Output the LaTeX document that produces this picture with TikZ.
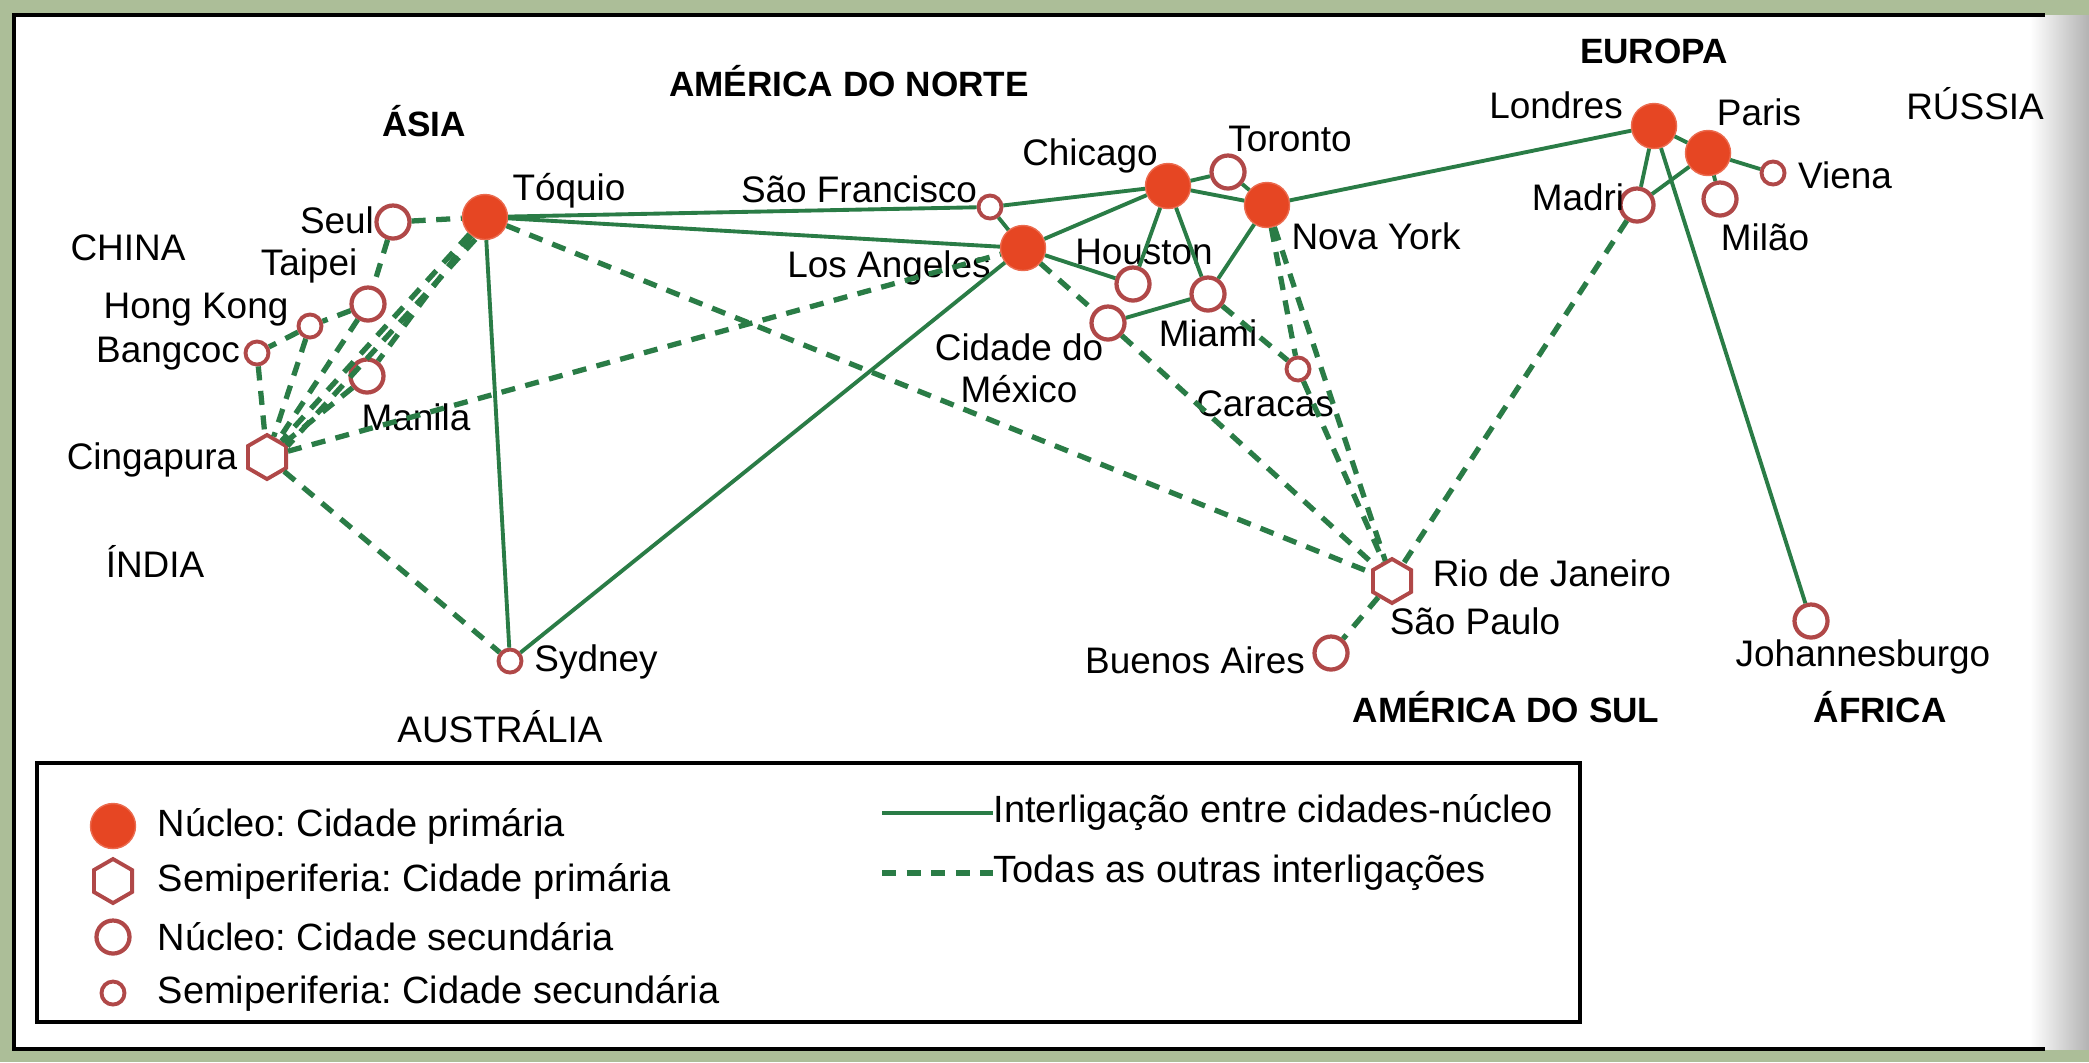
\documentclass[tikz,border=0pt]{standalone}
\usepackage{fontspec}
\setmainfont{Liberation Sans}
\usetikzlibrary{shapes.geometric}
\definecolor{linkgreen}{RGB}{42,124,70}
\definecolor{corered}{RGB}{230,70,35}
\definecolor{ringred}{RGB}{176,72,72}
\definecolor{pagegreen}{RGB}{172,190,152}
\newcommand{\maptext}{\fontsize{10.5}{12}\selectfont}
\newcommand{\regiontext}{\fontsize{10}{12}\selectfont\bfseries}
\newcommand{\keytext}{\fontsize{10.8}{13}\selectfont}
\frenchspacing

\begin{document}
\begin{tikzpicture}[x=0.01cm,y=-0.01cm,
    core/.style = {circle, fill=corered, draw=corered!80!white, minimum size=0.45cm, inner sep=0pt},
    hub/.style = {regular polygon, regular polygon sides=6, shape border rotate=30, draw=ringred, fill=white, line width=1.1pt, minimum size=0.44cm, inner sep=0pt},
    sec/.style = {circle, draw=ringred, fill=white, line width=1.2pt, minimum size=0.33cm, inner sep=0pt},
    minor/.style = {circle, draw=ringred, fill=white, line width=1.1pt, minimum size=0.23cm, inner sep=0pt},
    city/.style = {font=\maptext, inner sep=0pt},
    region/.style = {font=\regiontext, inner sep=0pt},
    keyitem/.style = {font=\keytext, inner sep=0pt, anchor=west},
    corelink/.style = {draw=linkgreen, line width=1.1pt},
    otherlink/.style = {draw=linkgreen, line width=1.5pt, dash pattern=on 4pt off 3pt}]
    \useasboundingbox (0,0) rectangle (2089,1062);
    % page and frame
    \fill[pagegreen] (0,0) rectangle (2089,1062);
    \fill[white] (14,15) rectangle (2045,1049);
    \shade[left color=white, right color=black!30] (2030,15) rectangle (2089,1049);
    \draw[line width=1pt] (2045,15) -- (14,15) -- (14,1049) -- (2045,1049);

    % regions
    \node[region] (asia) at (424,121) {ÁSIA};
    \node[region] (amnorte) at (849,81) {AMÉRICA DO NORTE};
    \node[region] (europa) at (1654,51) {EUROPA};
    \node[city] (russia) at (1975,104) {RÚSSIA};
    \node[city] (china) at (128,248) {CHINA};
    \node[city] (india) at (155,561) {ÍNDIA};
    \node[city] (australia) at (500,727) {AUSTRÁLIA};
    \node[region] (amsul) at (1506,707) {AMÉRICA DO SUL};
    \node[region] (africa) at (1880,707) {ÁFRICA};

    % cities
    \node[core] (tok) at (485,217) {};
    \node[sec] (seul) at (393,222) {};
    \node[sec] (taipei) at (368,304) {};
    \node[minor] (hk) at (310,326) {};
    \node[minor] (bkk) at (257,353) {};
    \node[sec] (manila) at (367,376) {};
    \node[hub] (cing) at (267,457) {};
    \node[minor] (syd) at (510,661) {};
    \node[minor] (sf) at (990,207) {};
    \node[core] (la) at (1023,248) {};
    \node[core] (chi) at (1168,186) {};
    \node[sec] (tor) at (1228,172) {};
    \node[core] (ny) at (1267,205) {};
    \node[sec] (hou) at (1133,284) {};
    \node[sec] (mia) at (1208,294) {};
    \node[sec] (mex) at (1108,323) {};
    \node[minor] (ccs) at (1298,369) {};
    \node[core] (lon) at (1654,126) {};
    \node[core] (par) at (1708,153) {};
    \node[minor] (vie) at (1773,173) {};
    \node[sec] (mil) at (1720,199) {};
    \node[sec] (mad) at (1637,205) {};
    \node[hub] (rio) at (1392,581) {};
    \node[sec] (bue) at (1331,653) {};
    \node[sec] (joh) at (1811,621) {};

    \node[city] (tokl) at (569,191) {Tóquio};
    \node[city] (seull) at (337,220) {Seul};
    \node[city] (taipeil) at (309,266) {Taipei};
    \node[city] (hkl) at (196,310) {Hong Kong};
    \node[city] (bkkl) at (168,354) {Bangcoc};
    \node[city] (manilal) at (416,417) {Manila};
    \node[city] (cingl) at (152,460) {Cingapura};
    \node[city] (sydl) at (596,662) {Sydney};
    \node[city] (sfl) at (859,189) {São Francisco};
    \node[city] (lal) at (889,268) {Los Angeles};
    \node[city] (chil) at (1090,156) {Chicago};
    \node[city] (torl) at (1290,139) {Toronto};
    \node[city] (nyl) at (1376,236) {Nova York};
    \node[city] (houl) at (1144,252) {Houston};
    \node[city] (mial) at (1208,333) {Miami};
    \node[city, align=center] (mexl) at (1019,368) {Cidade do\\México};
    \node[city] (ccsl) at (1265,404) {Caracas};
    \node[city] (lonl) at (1556,105) {Londres};
    \node[city] (parl) at (1759,112) {Paris};
    \node[city] (viel) at (1845,175) {Viena};
    \node[city] (madl) at (1578,197) {Madri};
    \node[city] (mill) at (1765,237) {Milão};
    \node[city] (riol) at (1552,573) {Rio de Janeiro};
    \node[city] (spl) at (1475,621) {São Paulo};
    \node[city] (buel) at (1195,660) {Buenos Aires};
    \node[city] (johl) at (1863,657) {Johannesburgo};

    % links between core cities
    \path[corelink]
        (tok) edge (sf)
        (tok) edge (la)
        (tok) edge (syd)
        (la) edge (syd)
        (sf) edge (la)
        (sf) edge (chi)
        (la) edge (chi)
        (la) edge (hou)
        (chi) edge (hou)
        (chi) edge (mia)
        (chi) edge (tor)
        (chi) edge (ny)
        (tor) edge (ny)
        (ny) edge (mia)
        (mia) edge (mex)
        (ny) edge (lon)
        (lon) edge (par)
        (lon) edge (mad)
        (par) edge (mad)
        (par) edge (vie)
        (par) edge (mil)
        (lon) edge (joh);
    % all other links
    \path[otherlink]
        (seul) edge (tok)
        (seul) edge (taipei)
        (taipei) edge (hk)
        (hk) edge (bkk)
        (bkk) edge (cing)
        (hk) edge (cing)
        (taipei) edge (cing)
        (manila) edge (cing)
        (tok) edge (cing)
        (tok) edge[transform canvas={shift={(6,5)}}] (cing)
        (tok) edge (manila)
        (cing) edge (syd)
        (cing) edge (la)
        (tok) edge (rio)
        (la) edge (mex)
        (mex) edge (rio)
        (mia) edge (ccs)
        (ccs) edge (rio)
        (ny) edge (ccs)
        (ny) edge (rio)
        (mad) edge (rio)
        (rio) edge (bue);

    % legend
    \draw[line width=1pt] (37,763) rectangle (1580,1022);
    \node[core] (kcore) at (113,826) {};
    \node[hub] (khub) at (113,881) {};
    \node[sec] (ksec) at (113,937) {};
    \node[minor] (kminor) at (113,993) {};
    \node[keyitem] (kcorel) at (157,826) {Núcleo: Cidade primária};
    \node[keyitem] (khubl) at (157,881) {Semiperiferia: Cidade primária};
    \node[keyitem] (ksecl) at (157,937) {Núcleo: Cidade secundária};
    \node[keyitem] (kminorl) at (157,993) {Semiperiferia: Cidade secundária};
    \node[keyitem] (ksolid) at (993,813) {Interligação entre cidades-núcleo};
    \node[keyitem] (kdash) at (993,873) {Todas as outras interligações};
    \coordinate (ksolidA) at (882,813);
    \coordinate (kdashA) at (882,873);
    \draw[corelink, line width=1.4pt] (ksolidA) -- (ksolid.west);
    \draw[otherlink] (kdashA) -- (kdash.west);
\end{tikzpicture}
\end{document}
